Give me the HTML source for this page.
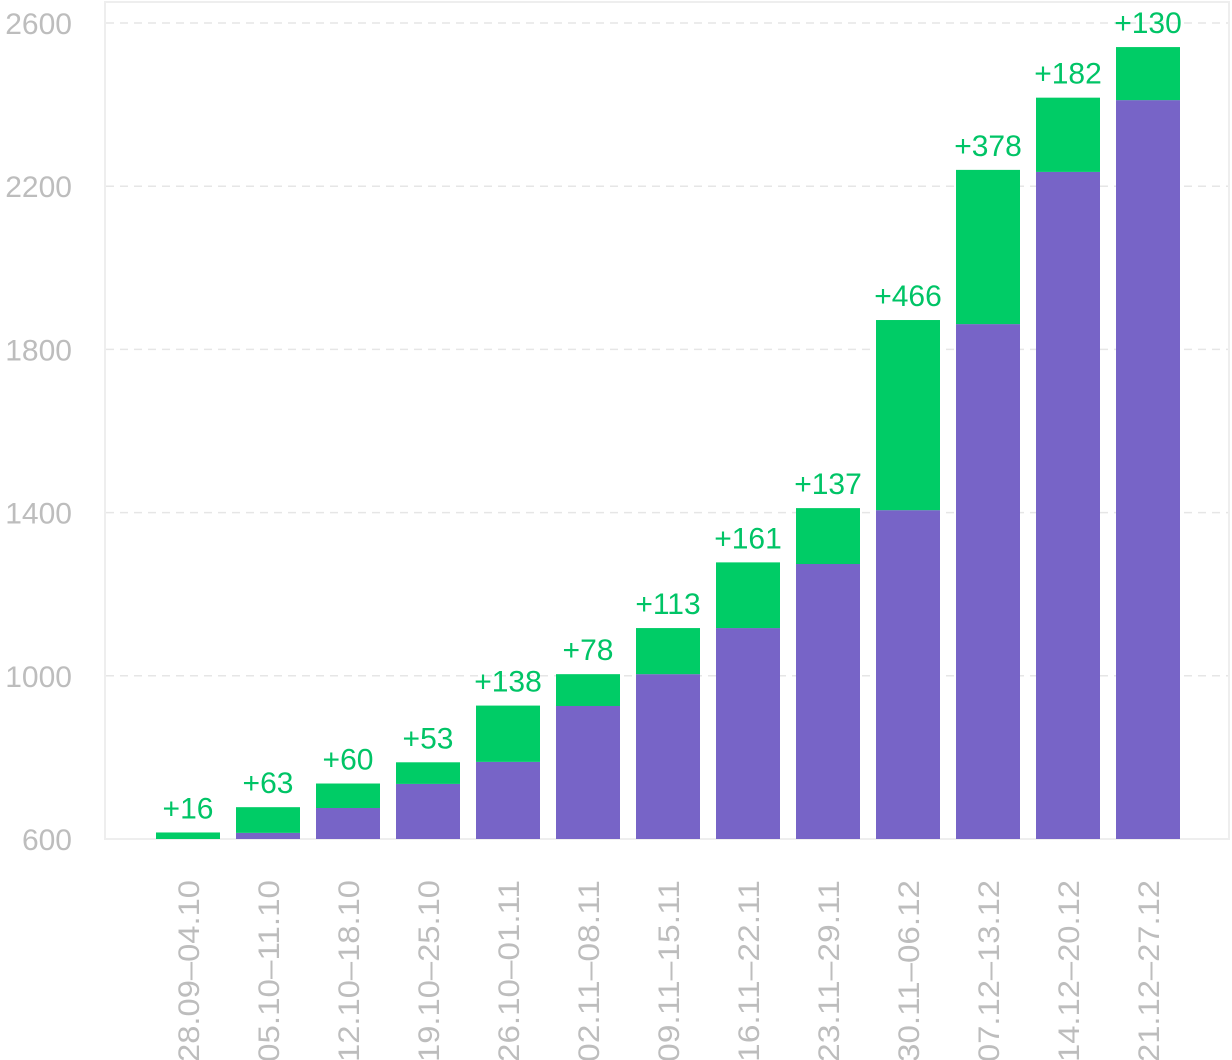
<!DOCTYPE html>
<html><head><meta charset="utf-8"><style>
body{margin:0;background:#fff;overflow:hidden;}
svg{display:block;font-family:"Liberation Sans",sans-serif;}
</style></head><body>
<svg id="chart" width="1232" height="1060" xmlns="http://www.w3.org/2000/svg"></svg>
<script>
const categories=["28.09–04.10","05.10–11.10","12.10–18.10","19.10–25.10","26.10–01.11","02.11–08.11","09.11–15.11","16.11–22.11","23.11–29.11","30.11–06.12","07.12–13.12","14.12–20.12","21.12–27.12"];
const baseValues=[600,615,676,735,789,926,1004,1117,1274,1406,1862,2235,2411];
const deltaValues=[16,63,60,53,138,78,113,161,137,466,378,182,130];
const yTicks=[600,1000,1400,1800,2200,2600];
const svg=document.getElementById('chart');
const NS='http://www.w3.org/2000/svg';
const y=v=>839-(v-600)*0.408;
const xc=i=>188+i*80;
function mk(t,a){const e=document.createElementNS(NS,t);for(const k in a)e.setAttribute(k,a[k]);svg.appendChild(e);return e;}
let fr=mk('rect',{x:105,y:2,width:1124,height:837,fill:'none',stroke:'#eeeeee','stroke-width':2});


yTicks.forEach(v=>{
  if(v>600){let g=mk('line',{x1:106,x2:1228,y1:y(v),y2:y(v),stroke:'#e6e6e6','stroke-width':1.5,'stroke-dasharray':'8,6'});
  
  }
  let t=mk('text',{x:72,y:y(v)+11,'text-anchor':'end','font-size':30,fill:'#bdbdbd'});
  t.textContent=v;
  
  
});
categories.forEach((c,i)=>{
  const b=baseValues[i],d=deltaValues[i],x=xc(i)-32;
  let p=mk('rect',{x:x,y:y(b),width:64,height:y(600)-y(b),fill:'#7764c7'});
  
  
  let g=mk('rect',{x:x,y:y(b+d),width:64,height:y(b)-y(b+d),fill:'#00cc66'});
  
  
  let l=mk('text',{x:xc(i),y:y(b+d)-14,'text-anchor':'middle','font-size':30,fill:'#00c466'});
  l.textContent='+'+d;
  
  
  let t=mk('text',{x:0,y:0,'text-anchor':'start','font-size':30,fill:'#bdbdbd',textLength:182,lengthAdjust:'spacingAndGlyphs',transform:`translate(${xc(i)+11},1062) rotate(-90)`});
  t.textContent=c;
  
  
});
</script>
</body></html>
